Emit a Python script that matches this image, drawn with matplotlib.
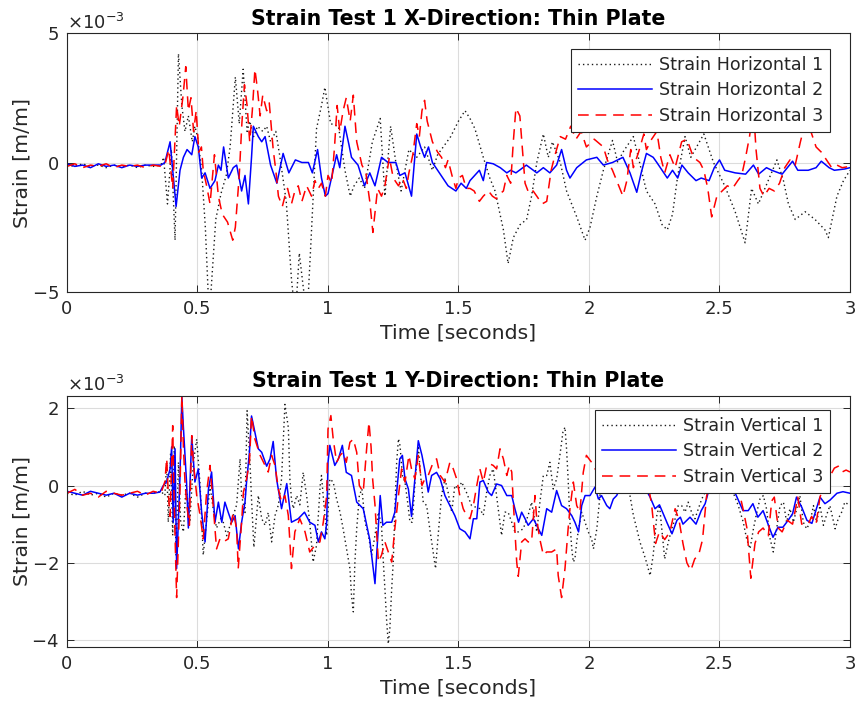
import numpy as np
import matplotlib
matplotlib.use("Agg")
import matplotlib.pyplot as plt
from matplotlib.ticker import ScalarFormatter

plt.rcParams['font.family'] = ['DejaVu Sans']
plt.rcParams['axes.unicode_minus'] = False

SCALE = 1e-3  # values below are in units of 1e-3 m/m

# ---------------- X-direction (top) : (time s, strain x1e-3) ----------------
h1 = [(0.0,-0.1),(0.03,-0.15),(0.06,-0.05),(0.09,-0.15),(0.12,-0.1),(0.15,-0.2),(0.18,-0.1),
      (0.21,-0.15),(0.24,-0.1),(0.27,-0.2),(0.30,-0.1),(0.33,-0.15),(0.36,-0.1),(0.37,0.2),
      (0.385,-1.6),(0.40,0.5),(0.414,-3.0),(0.427,4.2),(0.44,2.2),(0.452,1.2),(0.465,1.8),
      (0.48,0.8),(0.49,1.4),(0.50,1.0),(0.516,-0.3),(0.53,-2.5),(0.545,-6.0),(0.555,-4.5),
      (0.57,-2.2),(0.59,-1.2),(0.61,-0.5),(0.625,0.6),(0.645,3.3),(0.66,1.5),(0.675,3.6),
      (0.69,1.2),(0.70,1.6),(0.715,1.0),(0.73,1.4),(0.75,1.2),(0.765,1.4),(0.78,0.8),(0.80,1.2),
      (0.816,0.2),(0.84,-1.5),(0.86,-4.5),(0.875,-6.0),(0.89,-3.5),(0.905,-4.8),(0.92,-6.0),
      (0.935,-3.0),(0.956,1.3),(0.975,2.2),(0.988,2.9),(1.01,1.5),(1.04,1.4),(1.065,-0.3),
      (1.085,-1.3),(1.10,-0.9),(1.12,-0.6),(1.14,-1.0),(1.17,0.8),(1.20,1.7),(1.218,-1.3),
      (1.24,1.4),(1.26,0.0),(1.28,-1.1),(1.31,0.5),(1.34,0.2),(1.37,0.6),(1.40,-0.3),(1.42,0.3),
      (1.47,1.0),(1.50,1.6),(1.525,2.0),(1.544,1.7),(1.563,1.3),(1.595,0.2),(1.62,-0.6),
      (1.64,-1.1),(1.672,-2.6),(1.69,-3.9),(1.71,-2.9),(1.736,-2.4),(1.761,-2.2),(1.78,-1.3),
      (1.80,0.0),(1.825,1.1),(1.844,0.2),(1.86,0.8),(1.89,0.0),(1.914,-1.1),(1.953,-2.1),
      (1.985,-3.0),(2.004,-2.5),(2.03,-1.3),(2.055,-0.3),(2.09,0.85),(2.11,0.0),(2.13,0.4),
      (2.17,1.0),(2.22,-1.1),(2.253,-1.6),(2.28,-2.4),(2.30,-2.6),(2.32,-2.0),(2.34,-0.5),
      (2.368,1.0),(2.39,0.2),(2.44,1.1),(2.477,0.0),(2.52,-0.9),(2.56,-1.9),(2.598,-3.1),
      (2.623,-1.0),(2.649,-1.6),(2.674,-1.0),(2.72,0.1),(2.745,-0.7),(2.764,-1.6),(2.79,-2.2),
      (2.828,-1.9),(2.866,-2.2),(2.904,-2.6),(2.917,-2.9),(2.95,-1.3),(2.975,-0.7),(3.0,-0.3)]

h2 = [(0.0,-0.05),(0.03,-0.15),(0.06,-0.1),(0.09,-0.2),(0.12,-0.05),(0.15,-0.15),(0.18,-0.1),
      (0.21,-0.2),(0.24,-0.1),(0.27,-0.15),(0.30,-0.1),(0.33,-0.1),(0.36,-0.1),(0.375,0.0),
      (0.395,0.8),(0.405,-0.3),(0.418,-1.7),(0.433,-0.3),(0.446,0.2),(0.46,0.5),(0.478,0.3),
      (0.49,1.0),(0.503,0.6),(0.516,-0.6),(0.529,-0.4),(0.548,-1.0),(0.567,-0.7),(0.58,-0.1),
      (0.59,-0.3),(0.60,0.6),(0.618,-0.6),(0.637,-0.2),(0.65,-0.1),(0.669,-1.1),(0.682,-0.5),
      (0.695,-1.6),(0.707,0.2),(0.714,1.4),(0.733,1.0),(0.746,0.8),(0.759,1.0),(0.78,-0.1),
      (0.804,-0.8),(0.828,0.35),(0.85,-0.4),(0.875,0.1),(0.90,0.0),(0.925,0.0),(0.94,-0.4),
      (0.96,0.5),(0.975,-0.6),(0.99,-1.3),(1.0,-1.2),(1.02,-0.3),(1.033,0.3),(1.045,-0.2),
      (1.065,1.4),(1.08,0.7),(1.09,0.2),(1.115,-0.1),(1.14,-0.9),(1.16,-0.4),(1.18,-0.9),
      (1.205,0.2),(1.23,0.0),(1.26,0.0),(1.275,-0.5),(1.295,-0.4),(1.32,-1.3),(1.34,1.1),
      (1.355,0.6),(1.37,0.2),(1.385,0.6),(1.40,0.0),(1.42,-0.3),(1.44,-0.6),(1.46,-0.9),
      (1.49,-1.1),(1.51,-0.8),(1.53,-1.0),(1.544,-0.7),(1.58,-0.3),(1.595,-0.7),(1.608,0.0),
      (1.633,-0.05),(1.66,-0.2),(1.685,-0.4),(1.70,-0.3),(1.72,-0.4),(1.76,-0.1),(1.80,-0.4),
      (1.825,-0.2),(1.85,-0.4),(1.876,-0.1),(1.895,0.5),(1.914,-0.3),(1.927,-0.6),(1.953,-0.2),
      (1.99,0.1),(2.03,0.2),(2.055,-0.1),(2.09,0.0),(2.13,0.2),(2.157,-0.4),(2.183,-1.15),
      (2.20,-0.4),(2.22,0.35),(2.246,0.2),(2.26,0.0),(2.28,-0.3),(2.30,-0.6),(2.32,-0.3),
      (2.34,-0.6),(2.356,-0.1),(2.38,-0.4),(2.41,-0.7),(2.43,-0.6),(2.46,-0.7),(2.48,-0.2),
      (2.50,0.1),(2.52,-0.3),(2.56,-0.4),(2.60,-0.45),(2.63,-0.1),(2.65,-0.45),(2.68,-0.2),
      (2.70,-0.3),(2.74,-0.45),(2.78,0.05),(2.80,-0.3),(2.84,-0.3),(2.87,-0.2),(2.89,0.05),
      (2.92,-0.2),(2.94,-0.3),(2.98,-0.25),(3.0,-0.2)]

h3 = [(0.0,-0.15),(0.03,-0.05),(0.06,-0.2),(0.09,-0.1),(0.12,-0.15),(0.15,-0.05),(0.18,-0.2),
      (0.21,-0.1),(0.24,-0.15),(0.27,-0.1),(0.30,-0.2),(0.33,-0.1),(0.36,-0.15),(0.375,-0.1),
      (0.39,0.5),(0.405,-1.0),(0.42,2.2),(0.43,1.4),(0.445,2.6),(0.455,3.7),(0.465,2.0),
      (0.475,2.5),(0.485,1.2),(0.495,2.0),(0.505,0.4),(0.515,0.6),(0.522,-0.3),(0.535,-0.9),
      (0.548,-1.6),(0.565,0.3),(0.58,-1.3),(0.595,-2.0),(0.615,-2.3),(0.635,-3.0),(0.645,-2.5),
      (0.66,-0.5),(0.67,1.5),(0.68,3.0),(0.69,2.2),(0.70,0.8),(0.71,2.0),(0.72,3.6),(0.73,2.8),
      (0.74,1.8),(0.75,2.6),(0.765,2.0),(0.775,2.3),(0.79,0.5),(0.80,-0.3),(0.81,-1.3),
      (0.825,-1.7),(0.835,-1.3),(0.845,-1.0),(0.86,-1.6),(0.873,-1.1),(0.886,-0.9),(0.90,-1.5),
      (0.918,-0.9),(0.937,-1.3),(0.95,-0.7),(0.963,-1.0),(0.975,-0.8),(0.99,-1.3),(1.0,-0.5),
      (1.014,-0.8),(1.025,0.6),(1.035,2.2),(1.045,1.2),(1.058,2.0),(1.07,2.5),(1.085,1.6),
      (1.097,2.6),(1.11,0.8),(1.13,-0.1),(1.145,-0.4),(1.16,-1.5),(1.172,-2.7),(1.19,-1.0),
      (1.205,-1.3),(1.218,-0.9),(1.235,0.2),(1.25,-0.6),(1.27,-0.9),(1.285,-0.6),(1.30,-1.0),
      (1.31,-0.4),(1.325,0.3),(1.34,1.5),(1.35,1.0),(1.36,2.0),(1.37,2.4),(1.38,1.6),(1.40,0.8),
      (1.42,0.4),(1.435,0.2),(1.45,-0.2),(1.46,0.1),(1.475,-0.5),(1.49,-1.0),(1.50,-0.6),
      (1.515,-0.5),(1.53,-1.0),(1.544,-1.0),(1.56,-1.1),(1.58,-1.5),(1.595,-1.3),(1.615,-1.1),
      (1.63,-1.3),(1.645,-1.4),(1.66,-1.2),(1.672,-1.1),(1.685,-0.5),(1.70,-0.8),(1.71,0.8),
      (1.72,2.1),(1.735,1.8),(1.745,0.5),(1.755,-0.8),(1.77,-1.2),(1.786,-1.1),(1.80,-1.3),
      (1.82,-1.6),(1.838,-1.5),(1.855,-0.3),(1.87,0.3),(1.89,1.0),(1.91,0.9),(1.93,1.4),
      (1.95,0.9),(1.97,1.2),(1.99,0.6),(2.02,0.9),(2.055,0.6),(2.07,0.1),(2.09,-0.3),(2.11,-0.8),
      (2.13,-1.3),(2.145,-0.7),(2.16,0.5),(2.17,-0.2),(2.19,0.4),(2.21,1.1),(2.22,0.5),(2.24,0.9),
      (2.26,1.2),(2.275,0.2),(2.29,-0.4),(2.31,0.3),(2.33,-0.2),(2.355,0.8),(2.375,0.9),
      (2.40,0.2),(2.425,0.0),(2.44,-0.3),(2.455,-1.0),(2.47,-2.1),(2.49,-1.3),(2.51,-1.1),
      (2.53,-0.9),(2.55,-1.0),(2.57,-0.7),(2.585,-0.5),(2.60,0.2),(2.615,1.0),(2.63,2.1),
      (2.64,0.5),(2.655,-1.0),(2.67,-1.3),(2.69,-1.0),(2.71,-1.1),(2.73,-0.8),(2.75,-0.2),
      (2.77,0.1),(2.79,-0.1),(2.81,0.8),(2.83,1.6),(2.85,1.2),(2.87,0.6),(2.89,0.4),(2.91,0.1),
      (2.93,-0.2),(2.95,-0.1),(2.97,-0.2),(3.0,-0.15)]

# ---------------- Y-direction (bottom) ----------------
v1 = [(0.0,-0.2),(0.03,-0.25),(0.06,-0.15),(0.09,-0.25),(0.12,-0.2),(0.15,-0.3),(0.18,-0.2),
      (0.21,-0.25),(0.24,-0.2),(0.27,-0.3),(0.30,-0.2),(0.33,-0.2),(0.36,-0.15),(0.375,-0.26),
      (0.382,0.6),(0.388,-0.95),(0.397,0.86),(0.405,-1.29),(0.411,1.03),(0.418,-1.8),(0.427,0.6),
      (0.435,-0.9),(0.446,-1.2),(0.456,0.0),(0.471,-0.9),(0.484,0.6),(0.497,1.2),(0.51,0.0),
      (0.522,-1.8),(0.535,-0.9),(0.548,0.0),(0.56,-0.6),(0.573,-1.1),(0.593,-0.8),(0.612,-1.3),
      (0.631,-0.9),(0.65,-0.5),(0.663,0.69),(0.669,-0.26),(0.682,-0.7),(0.69,1.94),(0.701,0.6),
      (0.707,-0.35),(0.716,-1.6),(0.733,-0.26),(0.746,-0.86),(0.759,-1.03),(0.771,-0.7),
      (0.784,-1.46),(0.797,-0.78),(0.81,-0.5),(0.822,0.17),(0.835,2.1),(0.848,1.5),(0.854,0.17),
      (0.86,-0.35),(0.867,-0.6),(0.88,-0.26),(0.892,-0.5),(0.905,0.34),(0.918,-0.26),(0.93,-0.95),
      (0.943,-1.98),(0.956,-1.55),(0.97,0.0),(0.975,0.26),(0.988,-0.77),(0.995,-1.29),(1.007,0.17),
      (1.02,0.09),(1.033,-0.35),(1.046,-0.69),(1.058,-1.12),(1.071,-1.64),(1.084,-2.15),
      (1.09,-2.84),(1.097,-3.27),(1.103,-2.0),(1.11,-1.12),(1.12,-0.26),(1.13,-0.09),(1.142,-0.95),
      (1.155,-1.29),(1.167,-1.8),(1.18,-1.29),(1.193,-0.69),(1.205,-1.03),(1.212,-1.98),
      (1.218,-2.67),(1.225,-3.53),(1.231,-4.1),(1.237,-3.7),(1.244,-2.67),(1.25,-1.98),
      (1.256,-0.69),(1.263,0.6),(1.27,1.21),(1.276,1.03),(1.285,0.26),(1.295,0.09),(1.305,-0.43),
      (1.314,-0.95),(1.323,-0.95),(1.336,0.34),(1.346,1.03),(1.356,0.17),(1.365,-0.43),
      (1.378,-0.52),(1.39,-1.12),(1.403,-1.72),(1.412,-2.15),(1.422,-1.29),(1.435,-0.26),
      (1.448,0.17),(1.46,-0.17),(1.474,-0.69),(1.486,0.0),(1.50,-0.09),(1.512,0.09),(1.53,-0.17),
      (1.55,-0.52),(1.582,-0.6),(1.595,-0.77),(1.608,-0.17),(1.62,0.26),(1.633,0.43),(1.646,-0.26),
      (1.659,-0.95),(1.665,-1.29),(1.678,-0.69),(1.69,-0.69),(1.704,-0.95),(1.716,-1.2),
      (1.729,-1.2),(1.748,-1.12),(1.767,-0.77),(1.78,-0.43),(1.80,-1.2),(1.812,-0.43),(1.825,0.26),
      (1.838,0.26),(1.85,0.6),(1.863,-0.09),(1.876,0.17),(1.89,0.86),(1.90,1.38),(1.908,1.51),
      (1.914,0.95),(1.92,0.17),(1.927,-0.95),(1.934,-1.64),(1.94,-1.98),(1.946,-1.9),(1.953,-1.46),
      (1.96,-1.12),(1.972,-0.69),(1.985,-0.95),(1.997,-1.2),(2.01,-1.38),(2.017,-1.64),(2.03,-1.12),
      (2.042,-0.26),(2.055,0.3),(2.08,0.8),(2.11,0.2),(2.14,0.3),(2.157,-0.26),(2.17,-0.77),
      (2.183,-1.12),(2.195,-1.46),(2.208,-1.72),(2.22,-1.98),(2.234,-2.33),(2.246,-1.8),
      (2.253,-1.29),(2.26,-0.77),(2.27,-0.5),(2.28,-1.2),(2.29,-1.9),(2.304,-1.46),(2.317,-1.12),
      (2.33,-0.86),(2.342,-0.52),(2.355,-0.52),(2.368,-0.69),(2.38,-0.43),(2.393,-0.69),
      (2.406,-0.86),(2.419,-0.6),(2.432,-0.35),(2.445,-0.17),(2.47,0.3),(2.50,0.6),(2.53,0.2),
      (2.572,-0.52),(2.591,-0.95),(2.604,-1.38),(2.617,-1.64),(2.63,-1.12),(2.643,-0.69),
      (2.655,-0.35),(2.668,-0.26),(2.68,-0.6),(2.694,-1.38),(2.706,-1.72),(2.719,-1.12),
      (2.732,-0.52),(2.745,-0.43),(2.757,-0.95),(2.77,-0.6),(2.783,-0.95),(2.796,-0.6),
      (2.808,-0.26),(2.821,-0.95),(2.834,-1.12),(2.847,-0.95),(2.86,-0.52),(2.872,-0.95),
      (2.885,-0.52),(2.898,-1.03),(2.91,-0.77),(2.923,-0.52),(2.943,-1.12),(2.955,-0.86),
      (2.968,-0.69),(2.98,-0.43),(3.0,-0.52)]

v2 = [(0.0,-0.15),(0.03,-0.2),(0.06,-0.25),(0.09,-0.15),(0.12,-0.2),(0.15,-0.25),(0.18,-0.2),
      (0.21,-0.3),(0.24,-0.2),(0.27,-0.25),(0.30,-0.2),(0.33,-0.2),(0.356,-0.17),(0.369,0.0),
      (0.382,0.1),(0.395,0.43),(0.401,1.0),(0.407,-0.95),(0.414,0.95),(0.42,-2.15),(0.433,0.26),
      (0.44,2.3),(0.446,1.5),(0.458,0.09),(0.465,-1.1),(0.478,1.29),(0.49,0.09),(0.503,0.43),
      (0.516,-0.7),(0.529,-1.46),(0.542,-0.09),(0.554,0.35),(0.567,-0.95),(0.58,-0.43),
      (0.593,-0.95),(0.605,-0.43),(0.618,-0.7),(0.631,-0.95),(0.644,-0.78),(0.657,-1.64),
      (0.669,-0.95),(0.682,-0.43),(0.688,0.09),(0.699,0.86),(0.707,1.8),(0.72,1.38),(0.733,0.95),
      (0.746,0.86),(0.765,0.5),(0.778,0.69),(0.79,1.14),(0.803,0.17),(0.822,-0.6),(0.842,0.05),
      (0.86,-0.95),(0.886,-0.86),(0.91,-0.69),(0.93,-0.95),(0.95,-1.03),(0.963,-1.46),
      (0.975,-1.2),(0.988,-1.38),(0.995,-0.95),(1.0,0.6),(1.007,1.04),(1.026,0.52),(1.04,0.69),
      (1.055,1.04),(1.07,0.34),(1.09,0.26),(1.11,-0.43),(1.135,-0.6),(1.16,-1.4),(1.18,-2.54),
      (1.20,-0.26),(1.21,-1.03),(1.224,-0.95),(1.244,-0.95),(1.256,-0.69),(1.275,0.69),
      (1.285,0.78),(1.295,0.17),(1.308,-0.09),(1.32,-0.8),(1.333,0.17),(1.346,1.16),(1.36,0.78),
      (1.37,0.43),(1.384,-0.17),(1.397,0.26),(1.416,0.34),(1.43,0.17),(1.448,-0.26),(1.467,-0.52),
      (1.486,-0.78),(1.505,-1.12),(1.525,-1.2),(1.544,-1.38),(1.557,-0.86),(1.57,-0.86),
      (1.582,0.09),(1.595,0.13),(1.614,-0.17),(1.627,-0.26),(1.646,0.04),(1.665,0.0),(1.685,-0.26),
      (1.704,-0.26),(1.716,-0.6),(1.73,-0.95),(1.742,-0.69),(1.755,-0.86),(1.767,-1.03),
      (1.787,-0.86),(1.806,-1.12),(1.819,-1.29),(1.838,-0.6),(1.857,-0.69),(1.876,-0.13),
      (1.895,-0.52),(1.914,-0.6),(1.934,-0.78),(1.946,-0.95),(1.96,-1.2),(1.972,-0.52),
      (1.985,-0.26),(2.004,-0.26),(2.023,-0.04),(2.036,-0.35),(2.048,-0.26),(2.068,-0.52),
      (2.08,-0.6),(2.093,-0.35),(2.106,-0.26),(2.13,0.09),(2.16,0.2),(2.19,0.0),(2.22,-0.13),
      (2.234,-0.3),(2.253,-0.6),(2.27,-0.5),(2.30,-0.98),(2.318,-1.25),(2.337,-0.9),(2.35,-0.82),
      (2.36,-1.0),(2.387,-0.82),(2.41,-1.0),(2.43,-0.65),(2.445,-0.47),(2.456,-0.2),(2.48,0.1),
      (2.52,0.2),(2.55,-0.05),(2.567,-0.3),(2.59,-0.65),(2.61,-0.65),(2.628,-0.47),(2.647,-0.82),
      (2.667,-0.65),(2.686,-1.0),(2.705,-1.34),(2.724,-1.08),(2.743,-1.08),(2.763,-0.9),
      (2.78,-0.73),(2.795,-0.3),(2.815,-0.56),(2.835,-0.9),(2.854,-0.98),(2.873,-0.56),
      (2.885,-0.3),(2.904,-0.47),(2.923,-0.38),(2.95,-0.2),(2.973,-0.16),(3.0,-0.2)]

v3 = [(0.0,-0.2),(0.03,-0.1),(0.06,-0.25),(0.09,-0.2),(0.12,-0.3),(0.15,-0.15),(0.18,-0.2),
      (0.21,-0.25),(0.24,-0.2),(0.27,-0.15),(0.30,-0.25),(0.33,-0.15),(0.36,-0.2),(0.375,0.1),
      (0.382,0.7),(0.388,-0.2),(0.395,-0.8),(0.405,1.55),(0.41,-0.26),(0.42,-2.9),(0.433,-0.09),
      (0.44,2.33),(0.446,1.0),(0.452,0.09),(0.459,-0.5),(0.469,-1.03),(0.478,1.29),(0.484,0.6),
      (0.497,-0.26),(0.51,-0.78),(0.522,-1.38),(0.535,-0.17),(0.548,0.52),(0.56,-0.52),
      (0.573,-1.64),(0.586,-1.38),(0.599,-1.46),(0.618,-1.38),(0.637,-0.69),(0.65,-1.12),
      (0.656,-2.15),(0.669,-0.95),(0.676,-0.17),(0.688,0.17),(0.699,0.6),(0.707,1.8),(0.72,1.2),
      (0.74,0.78),(0.759,0.52),(0.771,0.35),(0.784,0.78),(0.797,0.52),(0.81,-0.09),(0.822,-0.43),
      (0.835,-0.26),(0.848,-0.78),(0.86,-2.15),(0.873,-1.2),(0.892,-0.86),(0.912,-1.2),
      (0.93,-1.72),(0.95,-1.55),(0.969,-1.46),(0.982,-0.95),(0.995,-0.26),(1.0,1.46),(1.011,1.81),
      (1.02,1.2),(1.033,0.6),(1.046,0.78),(1.058,0.86),(1.07,0.6),(1.084,1.12),(1.097,1.2),
      (1.11,0.86),(1.12,0.0),(1.135,-0.17),(1.148,0.95),(1.157,1.64),(1.165,1.0),(1.171,0.17),
      (1.18,-0.5),(1.193,-1.98),(1.205,-1.8),(1.218,-1.46),(1.231,-1.72),(1.244,-1.98),
      (1.256,-1.12),(1.27,-0.26),(1.282,0.43),(1.295,0.09),(1.31,0.78),(1.32,0.43),(1.333,0.17),
      (1.346,0.78),(1.36,0.0),(1.371,0.17),(1.384,0.26),(1.403,0.6),(1.416,0.69),(1.43,0.26),
      (1.448,0.09),(1.467,0.6),(1.48,0.43),(1.493,0.17),(1.505,-0.26),(1.518,-0.6),(1.531,-0.78),
      (1.544,-0.86),(1.557,-0.52),(1.57,0.0),(1.582,0.43),(1.595,0.09),(1.608,0.52),(1.62,0.56),
      (1.633,0.52),(1.646,0.43),(1.659,0.95),(1.672,0.69),(1.685,0.26),(1.695,0.52),(1.704,0.35),
      (1.71,-0.43),(1.723,-1.98),(1.729,-2.35),(1.742,-1.46),(1.755,-1.38),(1.767,-1.46),
      (1.78,-1.46),(1.793,-0.26),(1.80,-0.9),(1.812,-1.4),(1.825,-1.8),(1.838,-1.72),
      (1.857,-1.72),(1.876,-1.64),(1.882,-2.33),(1.895,-2.9),(1.908,-2.15),(1.92,-1.12),
      (1.927,-0.6),(1.94,0.09),(1.953,-0.52),(1.965,-0.69),(1.978,0.34),(1.99,0.78),(2.01,0.6),
      (2.03,0.35),(2.06,0.6),(2.10,0.3),(2.15,0.5),(2.20,0.2),(2.22,0.3),(2.24,-0.5),(2.255,-1.5),
      (2.27,-1.2),(2.29,-1.4),(2.31,-1.2),(2.33,-0.6),(2.345,-0.9),(2.36,-1.5),(2.375,-2.0),
      (2.39,-2.2),(2.405,-1.9),(2.42,-1.8),(2.435,-1.4),(2.45,-0.3),(2.47,0.3),(2.50,0.5),
      (2.53,0.2),(2.56,0.3),(2.59,-0.6),(2.605,-1.1),(2.62,-2.4),(2.636,-1.5),(2.65,-1.2),
      (2.667,-1.1),(2.687,-1.3),(2.70,-0.4),(2.71,-0.3),(2.725,-1.1),(2.74,-1.2),(2.76,-0.9),
      (2.78,-1.0),(2.80,-0.3),(2.815,-1.0),(2.84,-1.0),(2.853,-0.8),(2.87,-1.0),(2.885,-0.3),
      (2.90,0.0),(2.92,0.2),(2.94,0.45),(2.955,0.5),(2.97,0.35),(2.985,0.4),(3.0,0.35)]

labels_x = ['Strain Horizontal 1', 'Strain Horizontal 2', 'Strain Horizontal 3']
labels_y = ['Strain Vertical 1', 'Strain Vertical 2', 'Strain Vertical 3']
titles = ['Strain Test 1 X-Direction: Thin Plate', 'Strain Test 1 Y-Direction: Thin Plate']
xticks = [0, 0.5, 1, 1.5, 2, 2.5, 3]
xtick_labels = ['0', '0.5', '1', '1.5', '2', '2.5', '3']
yticks_top = [-5, 0, 5]
yticks_bot = [-4, -2, 0, 2]
ylim_top = (-5, 5)
ylim_bot = (-4.18, 2.33)

DARK = '#262626'
styles = [dict(color='#1a1a1a', lw=1.0, ls=(0, (1, 2.2))),
          dict(color='#0000ff', lw=1.1, ls='-'),
          dict(color='#ff0000', lw=1.1, ls=(0, (7, 4.5)))]

fig = plt.figure(figsize=(8.62, 7.21), dpi=100)
ax1 = fig.add_axes([67/862, 1-292/721, 783/862, 259/721])
ax2 = fig.add_axes([67/862, 1-647/721, 783/862, 251.5/721])

def style_axes(ax, series, labels, title, yticks, ylim, leg_top):
    for s, lab, st in zip(series, labels, styles):
        arr = np.array(s)
        ax.plot(arr[:, 0], arr[:, 1] * SCALE, label=lab, **st)
    ax.set_xlim(0, 3)
    ax.set_ylim(ylim[0] * SCALE, ylim[1] * SCALE)
    ax.set_xticks(xticks)
    ax.set_xticklabels(xtick_labels)
    ax.set_yticks(np.array(yticks) * SCALE)
    fmt = ScalarFormatter(useMathText=True)
    fmt.set_powerlimits((-3, -3))
    ax.yaxis.set_major_formatter(fmt)
    ax.yaxis.get_offset_text().set_fontsize(13)
    ax.yaxis.get_offset_text().set_color('#606060')
    ax.grid(True, color='#dcdcdc', lw=0.8)
    ax.set_axisbelow(True)
    ax.tick_params(direction='in', top=True, right=True, length=5, width=0.7,
                   colors=DARK, labelsize=13, pad=6)
    for sp in ax.spines.values():
        sp.set_color(DARK)
        sp.set_linewidth(0.8)
    ax.set_xlabel('Time [seconds]', fontsize=14.7, color=DARK, labelpad=4)
    ax.set_ylabel('Strain [m/m]', fontsize=14.7, color=DARK, labelpad=0)
    ax.set_title(title, fontsize=14.8, fontweight='bold', color='black', pad=6)
    leg = ax.legend(loc='upper right', bbox_to_anchor=(0.9745, leg_top), borderaxespad=0,
                    fontsize=12.6, handlelength=4.2, handletextpad=0.4, labelspacing=0.42,
                    borderpad=0.4, fancybox=False, framealpha=1, edgecolor=DARK)
    leg.get_frame().set_linewidth(0.8)
    for t in leg.get_texts():
        t.set_color(DARK)

style_axes(ax1, [h1, h2, h3], labels_x, titles[0], yticks_top, ylim_top, 0.938)
style_axes(ax2, [v1, v2, v3], labels_y, titles[1], yticks_bot, ylim_bot, 0.942)

fig.savefig('out.png', dpi=100, facecolor='white')
